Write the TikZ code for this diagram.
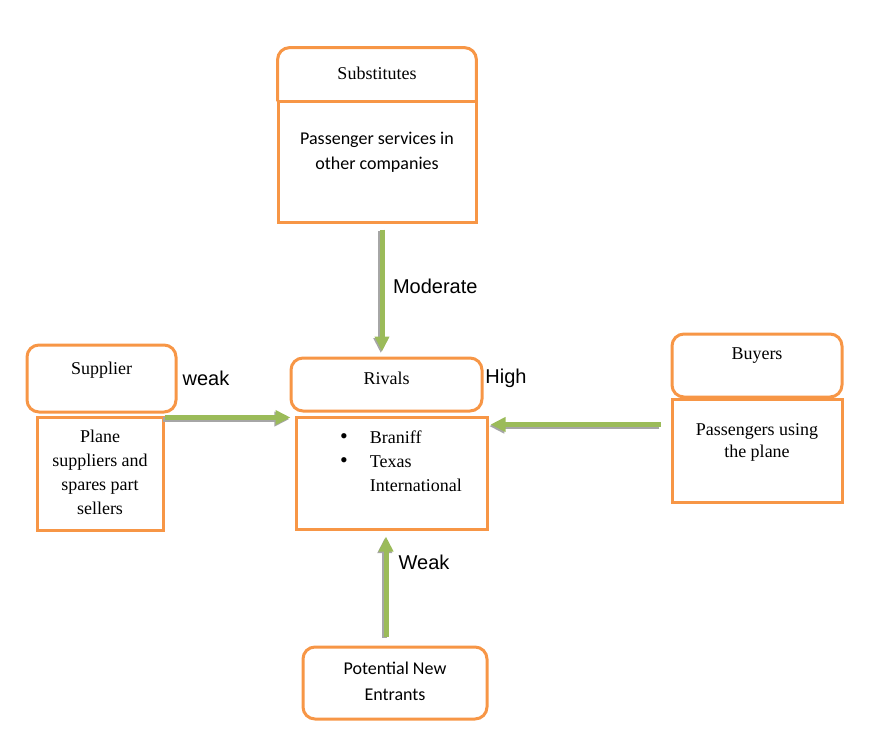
\documentclass[tikz,border=0pt]{standalone}
\usepackage{fontspec}
\setmainfont{Liberation Serif}
\setsansfont{Liberation Sans}
\newfontfamily\calfont{Carlito}
\usepackage{xcolor}
\usepackage{tikz}
\usetikzlibrary{arrows.meta}
\definecolor{boxorange}{HTML}{F79646}
\definecolor{arrowgreen}{HTML}{9BBB59}
\definecolor{shadowgrey}{HTML}{A6A6A6}

\begin{document}
\begin{tikzpicture}[x=0.5pt,y=-0.5pt,
  headbox/.style={draw=boxorange,line width=1.5pt,rounded corners=6pt,fill=white,inner sep=0pt},
  bodybox/.style={draw=boxorange,line width=1.5pt,fill=white,inner sep=0pt},
  serif/.style={font=\fontsize{9}{12}\selectfont,align=center},
  calib/.style={font=\calfont\fontsize{9}{12.5}\selectfont,align=center},
  strength/.style={font=\sffamily\fontsize{10}{12}\selectfont},
  force/.style={draw=arrowgreen,line width=2.5pt,-{Triangle[length=7.5pt,width=7pt]},
    preaction={draw=shadowgrey,line width=2.5pt,-{Triangle[length=7.5pt,width=7pt]},
      transform canvas={xshift=-0.6pt,yshift=-0.8pt}}}]
\useasboundingbox (0,0) rectangle (875,735);

% substitutes (one outline, round top only)
\node[bodybox,minimum width=99pt,minimum height=60.5pt,
  label={[calib,yshift=4.5pt]center:Passenger services in\\other companies}] (subbody) at (377,161.5) {};
\node[inner sep=0pt,minimum width=99pt,minimum height=26.5pt,
  label={[serif,yshift=0.75pt]center:Substitutes}] (subhead) at (377,74.5) {};
\draw[draw=boxorange,line width=1.5pt,rounded corners=6pt]
  (subhead.south west) -- (subhead.north west) -- (subhead.north east) -- (subhead.south east);

% supplier
\node[headbox,minimum width=74.5pt,minimum height=33.5pt,
  label={[serif,yshift=4pt]center:Supplier}] (suphead) at (101.5,378.5) {};
\node[bodybox,minimum width=63pt,minimum height=56.5pt,
  label={[serif,yshift=0.75pt]center:Plane\\suppliers and\\spares part\\sellers}] (supbody) at (100,473.5) {};

% rivals
\node[headbox,minimum width=95.5pt,minimum height=26.5pt,
  label={[serif,yshift=3.25pt]center:Rivals}] (rivhead) at (386.5,384.5) {};
\node[bodybox,minimum width=95.5pt,minimum height=56pt,
  label={[serif,yshift=5pt,xshift=4.75pt]center:{\begin{tabular}{@{}l@{\hspace{11pt}}l@{}}
    {\fontsize{11}{12}\selectfont\textbullet} & Braniff\\ {\fontsize{11}{12}\selectfont\textbullet} & Texas\\ & International\end{tabular}}}] (rivbody) at (391.5,473) {};

% buyers
\node[headbox,minimum width=85pt,minimum height=31.5pt,
  label={[serif,yshift=4.75pt]center:Buyers}] (buyhead) at (757,365.5) {};
\node[bodybox,minimum width=85pt,minimum height=51.5pt,
  label={[serif,font=\fontsize{9}{11}\selectfont,yshift=4.25pt]center:Passengers using\\the plane}] (buybody) at (757,450.5) {};

% new entrants
\node[headbox,minimum width=92pt,minimum height=36pt,
  label={[calib,font=\calfont\fontsize{9}{13}\selectfont,yshift=1pt]center:Potential New\\Entrants}] (entrants) at (395,683) {};

% forces
\draw[force] ([xshift=2.5pt,yshift=-3pt]subbody.south) -- ([xshift=-2.25pt,yshift=2.5pt]rivhead.north);
\draw[force] ([yshift=-1pt]supbody.north east) -- ([xshift=-2pt,yshift=-1pt]rivbody.north west);
\draw[force] ([xshift=-5pt,yshift=-13.5pt]buybody.north west) -- ([xshift=1pt,yshift=-4.5pt]rivbody.north east);
\draw[force] ([xshift=-4.5pt,yshift=4.5pt]entrants.north) -- ([xshift=-2.75pt,yshift=-3pt]rivbody.south);

\node[strength,anchor=west] (modlabel) at (386,286) {Moderate};
\node[strength] (suplabel) at (206,378) {weak};
\node[strength] (rivlabel) at (506,378) {High};
\node[strength] (entlabel) at (424,562) {Weak};
\end{tikzpicture}
\end{document}
